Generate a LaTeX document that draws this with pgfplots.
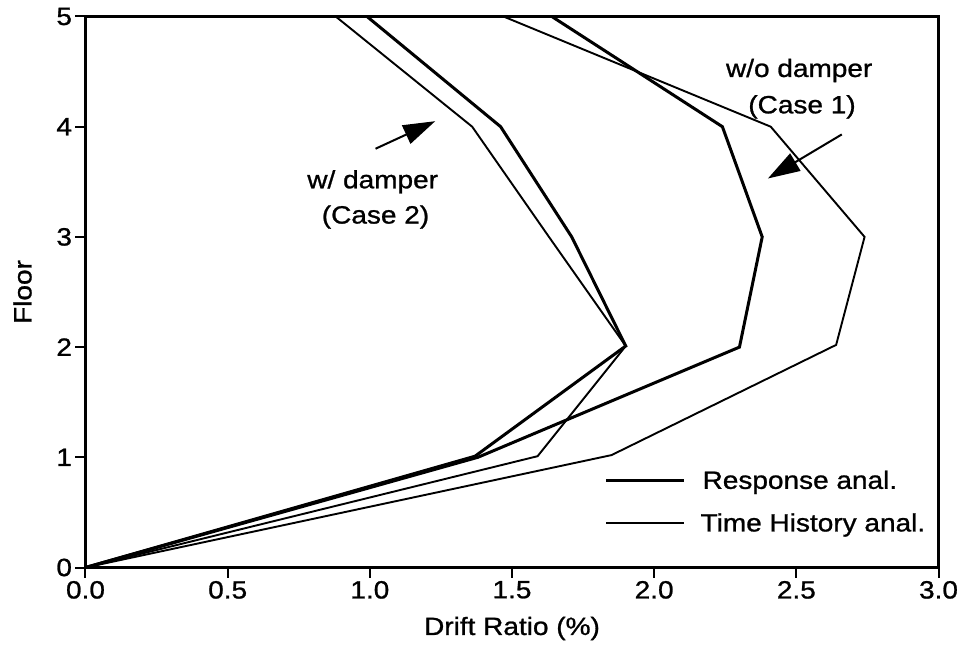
\documentclass[border=0pt]{standalone}
\usepackage{fontspec}
\setmainfont{Liberation Sans}[FakeStretch=1.12, FakeBold=1]
\usepackage{pgfplots}
\pgfplotsset{compat=1.18}
\usetikzlibrary{arrows.meta}

\pgfplotstableread{
x y
0.00 0.00
1.38 1.00
2.30 2.00
2.38 3.00
2.24 4.00
1.64 5.00
}\caseoneresp
\pgfplotstableread{
x y
0.00 0.00
1.85 1.02
2.64 2.02
2.74 3.00
2.41 4.00
1.47 5.00
}\caseonetime
\pgfplotstableread{
x y
0.00 0.00
1.37 1.01
1.90 2.01
1.71 3.00
1.46 4.00
0.99 5.00
}\casetworesp
\pgfplotstableread{
x y
0.00 0.00
1.59 1.01
1.90 2.01
1.63 3.00
1.36 4.00
0.88 5.00
}\casetwotime

\begin{document}
\begin{tikzpicture}[font=\fontsize{25}{30}\selectfont]
\begin{axis}[
  at={(0pt,0pt)}, anchor=south west,
  scale only axis, width=853pt, height=551pt,
  xmin=0, xmax=3, ymin=0, ymax=5,
  xtick={0,0.5,...,3.0}, ytick={0,1,2,3,4,5},
  xticklabel style={/pgf/number format/.cd, fixed, fixed zerofill, precision=1},
  /pgf/number format/assume math mode=true,
  tick label style={font=\fontsize{25}{30}\selectfont},
  axis line style={line width=2.6pt},
  tick style={line width=2pt, black},
  tick align=outside, major tick length=10pt,
  xtick pos=bottom, ytick pos=left,
  xlabel={Drift Ratio (\%)}, ylabel={Floor},
  xlabel style={at={(axis description cs:0.5,0)}, anchor=center, yshift=-61pt},
  ylabel style={at={(axis description cs:0,0.5)}, anchor=center, yshift=63pt},
  legend style={draw=none, fill=none, at={(axis cs:1.825,0.88)}, anchor=north west,
    font=\fontsize{25}{30}\selectfont, row sep=23pt, inner sep=0pt,
    nodes={inner sep=0pt}},
  legend cell align=left,
  legend image code/.code={\draw[#1] (0pt,0pt) -- (78pt,0pt);},
]
\addplot[black, line width=3pt] table {\caseoneresp};
\addlegendentry{\hspace*{17pt}Response anal.}
\addplot[black, line width=1.9pt] table {\caseonetime};
\addlegendentry{\hspace*{15pt}Time History anal.}
\addplot[black, line width=3pt, forget plot] table {\casetworesp};
\addplot[black, line width=1.9pt, forget plot] table {\casetwotime};

\node at (axis cs:1.01,3.50) {w/ damper};
\node at (axis cs:1.02,3.18) {(Case 2)};
\node at (axis cs:2.51,4.51) {w/o damper};
\node at (axis cs:2.52,4.18) {(Case 1)};
\draw[line width=2pt, -{Triangle[length=32pt,width=20pt]}] (axis cs:1.02,3.80) -- (axis cs:1.23,4.05);
\draw[line width=2pt, -{Triangle[length=32pt,width=20pt]}] (axis cs:2.66,3.93) -- (axis cs:2.40,3.53);
\end{axis}
\pgfresetboundingbox
\path (-85.5pt,-77.5pt) rectangle (883.5pt,567.5pt);
\end{tikzpicture}
\end{document}
